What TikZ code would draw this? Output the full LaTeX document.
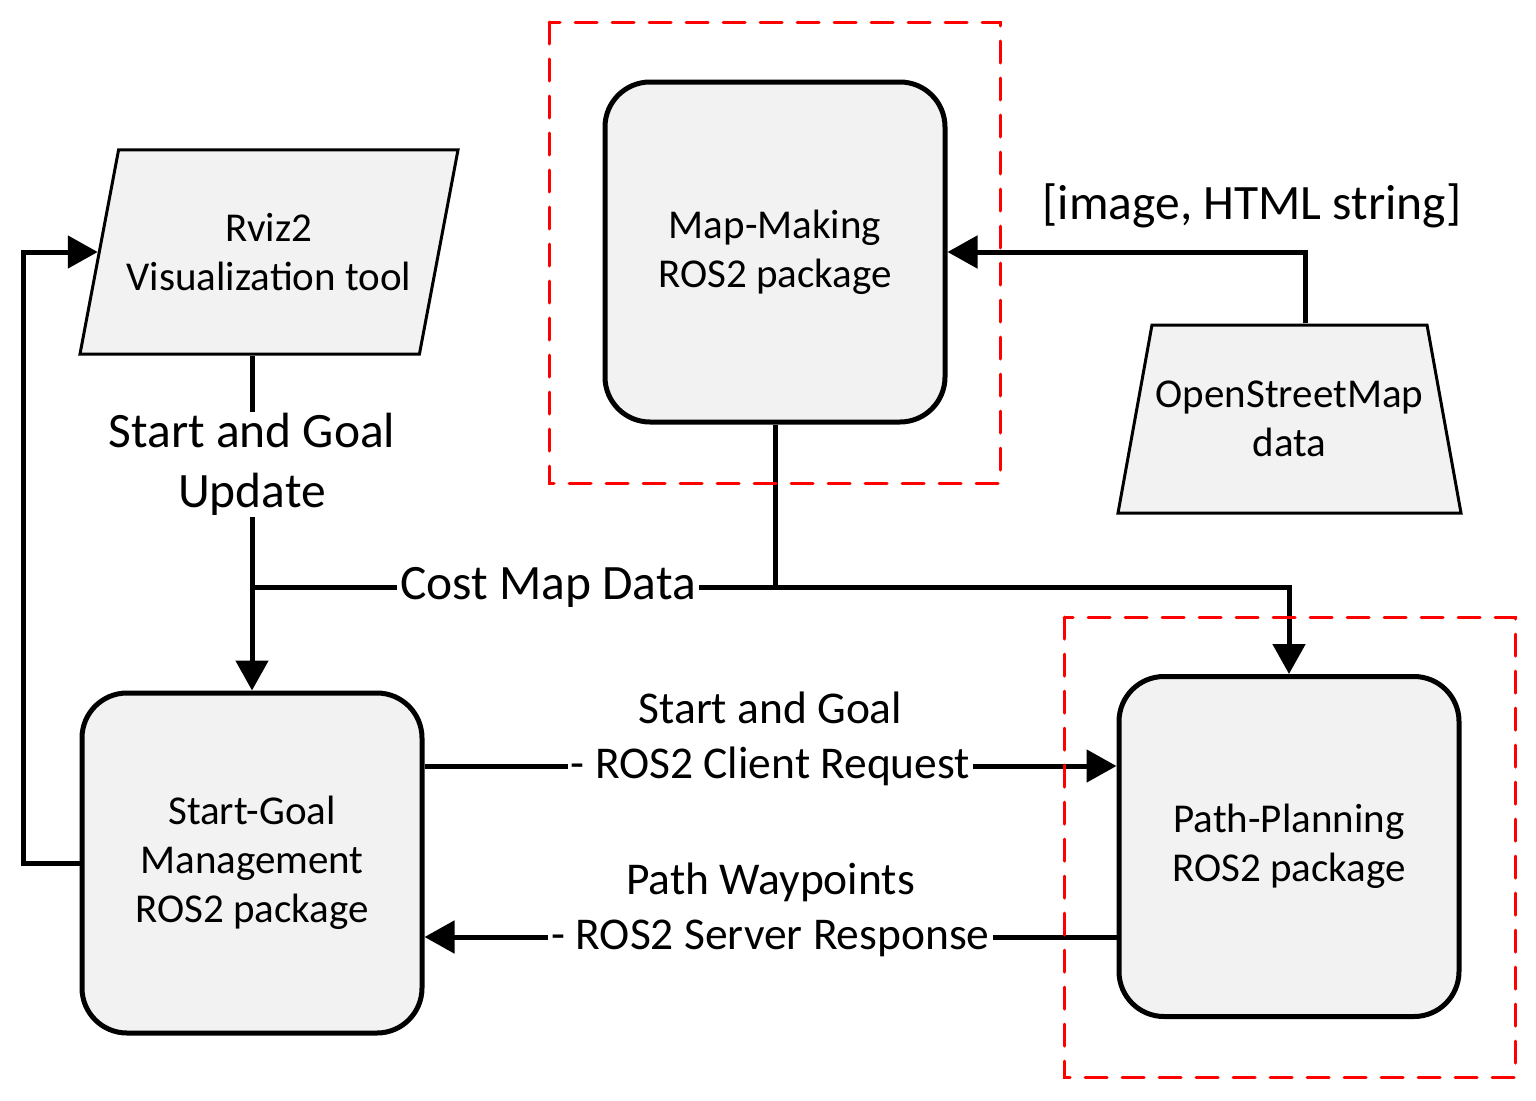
\documentclass[tikz,border=0pt]{standalone}
\usepackage{fontspec}
\setmainfont{Carlito}
\usetikzlibrary{arrows.meta,shapes.geometric}

\definecolor{boxgray}{RGB}{242,242,242}
\newcommand{\boxfont}{\fontsize{41}{49}\selectfont}
\newcommand{\midfont}{\fontsize{45.5}{55}\selectfont}
\newcommand{\bigfont}{\fontsize{49.5}{60}\selectfont}

\tikzset{every picture/.style={line width=5pt}}
\tikzset{
  pkgbox/.style={draw, line width=5pt, fill=boxgray, rounded corners=45pt,
    minimum width=340pt, minimum height=340pt, align=center, font=\boxfont},
  iobox/.style={draw, line width=3pt, fill=boxgray, trapezium, trapezium stretches body=true,
    align=center, font=\boxfont},
  flow/.style={line width=5pt, -{Triangle[length=30pt,width=32pt]}},
  wire/.style={line width=5pt},
  tag/.style={fill=white, inner sep=3pt, align=center},
  redbox/.style={draw={rgb,255:red,255;green,0;blue,0}, line width=3pt, line cap=round,
    dash pattern=on 22pt off 15pt},
}

\begin{document}
\begin{tikzpicture}[x=1pt,y=-1pt]
\useasboundingbox (0,0) rectangle (1536,1100);

%Shape: Parallelogram [id:rviz]
\draw (269,252) node (rviz) [iobox, trapezium left angle=79.3, trapezium right angle=100.7,
  inner ysep=63.3pt, minimum width=378pt, minimum height=202pt] {Rviz2\\Visualization tool};
%Shape: Rounded Rect [id:map]
\draw (775,252) node (map) [pkgbox] {Map-Making\\ROS2 package};
%Shape: Trapezoid [id:osm]
\draw (1289.5,419) node (osm) [iobox, trapezium left angle=79.75, trapezium right angle=79.75,
  inner ysep=56pt, minimum width=343pt, minimum height=188pt] {OpenStreetMap\\data};
%Shape: Rounded Rect [id:sg]
\draw (252,863) node (sg) [pkgbox] {Start-Goal\\Management\\ROS2 package};
%Shape: Rounded Rect [id:plan]
\draw (1289,846.5) node (plan) [pkgbox] {Path-Planning\\ROS2 package};

\coordinate (cm) at (775,587);

%Straight Lines [id:osm-map]
\draw [flow] ([xshift=16pt]osm.north) |- (map.east);
% Text Node
\draw (1252,206) node (osmtag) [font=\bigfont] {[image, HTML string]};

%Straight Lines [id:map-plan]
\draw [flow] (map.south) -- (cm) -| (plan.north);
%Straight Lines [id:map-sg]
\draw [wire] (cm) -- node [tag, pos=0.434, font=\bigfont] {Cost Map Data} (cm -| sg.north);

%Straight Lines [id:rviz-sg]
\draw [flow] (rviz.south -| sg.north) -- node [tag, pos=0.325, inner sep=1pt, font=\bigfont] {Start and Goal\\Update} (sg.north);

%Straight Lines [id:sg-rviz]
\draw [flow] (sg.west) -- ++(-56,0) |- (rviz.west);

%Straight Lines [id:sg-plan]
\draw [flow] ([yshift=97pt]sg.east) -- node [tag, yshift=27.5pt, font=\midfont] {Start and Goal\\- ROS2 Client Request} ([yshift=97pt]sg.east -| plan.west);
%Straight Lines [id:plan-sg]
\draw [flow] ([yshift=-90.5pt]plan.west) -- node [tag, yshift=27.5pt, font=\midfont] {Path Waypoints\\- ROS2 Server Response} ([yshift=-90.5pt]plan.west -| sg.east);

%Shape: Dashed Rect [id:mapzone]
\draw [redbox] (549,22) rectangle (1000,483);
%Shape: Dashed Rect [id:planzone]
\draw [redbox] (1064,617) rectangle (1515,1077);

\end{tikzpicture}
\end{document}
